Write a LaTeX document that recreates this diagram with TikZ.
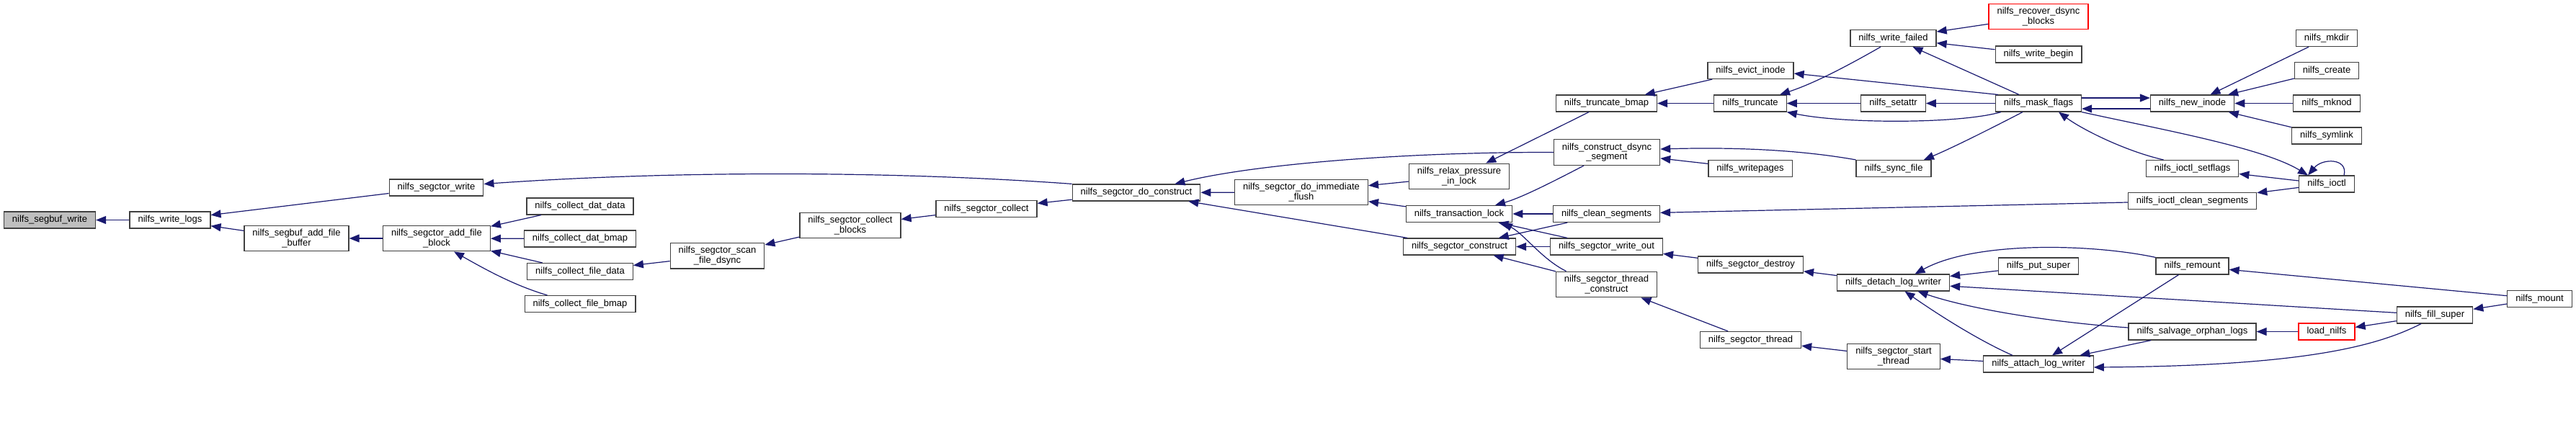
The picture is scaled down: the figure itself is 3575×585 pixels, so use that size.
\documentclass[tikz,border=0pt]{standalone}
\usepackage{fontspec}
\setmainfont{Liberation Sans}
\usetikzlibrary{arrows.meta}
\definecolor{edgeNavy}{RGB}{25,25,112}
\definecolor{frameGray}{RGB}{64,64,64}
\definecolor{rootGray}{RGB}{191,191,191}
\definecolor{missRed}{RGB}{255,0,0}

\begin{document}
\begin{tikzpicture}[
    x=0.5pt, y=-0.5pt,
    box/.style={rectangle, draw=frameGray, fill=white, line width=0.6pt,
      inner xsep=5.75pt, inner ysep=2.5pt, minimum height=11.5pt,
      align=center, font=\fontsize{6.5}{6.85}\selectfont},
    root/.style={box, fill=rootGray},
    miss/.style={box, draw=missRed},
    arr/.style={-{Triangle[length=7pt, width=5.5pt]}, line width=0.6pt, edgeNavy}
  ]
  \useasboundingbox (0,0) rectangle (3575,585);

  % segment buffer side
  \node[root] (root) at (69,305.5) {nilfs\_segbuf\_write};
  \node[box] (wlogs) at (236,305.5) {nilfs\_write\_logs};
  \node[box] (addbuf) at (411.5,331) {nilfs\_segbuf\_add\_file\\\_buffer};
  \node[box] (sctwrite) at (605.5,260.5) {nilfs\_segctor\_write};
  \node[box] (addblk) at (606,331) {nilfs\_segctor\_add\_file\\\_block};
  \node[box] (datdata) at (805,286.5) {nilfs\_collect\_dat\_data};
  \node[box] (datbmap) at (805,331.5) {nilfs\_collect\_dat\_bmap};
  \node[box] (filedata) at (805,377) {nilfs\_collect\_file\_data};
  \node[box] (filebmap) at (805,422) {nilfs\_collect\_file\_bmap};
  \node[box] (scandsync) at (995.5,355) {nilfs\_segctor\_scan\\\_file\_dsync};
  \node[box] (colblocks) at (1180,313) {nilfs\_segctor\_collect\\\_blocks};
  \node[box] (collect) at (1369,290) {nilfs\_segctor\_collect};
  \node[box] (doconstr) at (1577,267.5) {nilfs\_segctor\_do\_construct};
  \node[box] (flush) at (1806,267) {nilfs\_segctor\_do\_immediate\\\_flush};

  % construction and locking
  \node[box] (relax) at (2025,245) {nilfs\_relax\_pressure\\\_in\_lock};
  \node[box] (tlock) at (2025,297) {nilfs\_transaction\_lock};
  \node[box] (construct) at (2025.5,342.5) {nilfs\_segctor\_construct};
  \node[box] (truncbmap) at (2229.5,143.5) {nilfs\_truncate\_bmap};
  \node[box] (dsyncseg) at (2230,211.5) {nilfs\_construct\_dsync\\\_segment};
  \node[box] (clean) at (2229.5,297) {nilfs\_clean\_segments};
  \node[box] (writeout) at (2229.5,342.5) {nilfs\_segctor\_write\_out};
  \node[box] (thrconstr) at (2229.5,395) {nilfs\_segctor\_thread\\\_construct};
  \node[box] (evict) at (2429.5,98) {nilfs\_evict\_inode};
  \node[box] (truncate) at (2429,143.5) {nilfs\_truncate};
  \node[box] (writepages) at (2429,234) {nilfs\_writepages};
  \node[box] (destroy) at (2429.5,367.5) {nilfs\_segctor\_destroy};
  \node[box] (thread) at (2429.5,472) {nilfs\_segctor\_thread};

  % inode and super block callers
  \node[box] (wfailed) at (2627.5,53) {nilfs\_write\_failed};
  \node[box] (setattr) at (2627.5,143.5) {nilfs\_setattr};
  \node[box] (syncfile) at (2628,234) {nilfs\_sync\_file};
  \node[box] (detach) at (2627.5,392.5) {nilfs\_detach\_log\_writer};
  \node[box] (startthr) at (2628,495) {nilfs\_segctor\_start\\\_thread};
  \node[miss] (recover) at (2829,23) {nilfs\_recover\_dsync\\\_blocks};
  \node[box] (wbegin) at (2829,75.5) {nilfs\_write\_begin};
  \node[box] (mask) at (2829,143.5) {nilfs\_mask\_flags};
  \node[box] (putsuper) at (2829,369.5) {nilfs\_put\_super};
  \node[box] (attach) at (2829,505.5) {nilfs\_attach\_log\_writer};
  \node[box] (newinode) at (3042.5,143.5) {nilfs\_new\_inode};
  \node[box] (setflags) at (3042.5,234) {nilfs\_ioctl\_setflags};
  \node[box] (ioclean) at (3042.5,279) {nilfs\_ioctl\_clean\_segments};
  \node[box] (remount) at (3042.5,369.5) {nilfs\_remount};
  \node[box] (salvage) at (3042.5,460.5) {nilfs\_salvage\_orphan\_logs};
  \node[box] (mkdir) at (3229,53) {nilfs\_mkdir};
  \node[box] (create) at (3229,98) {nilfs\_create};
  \node[box] (mknod) at (3229,143.5) {nilfs\_mknod};
  \node[box] (symlink) at (3229,188.5) {nilfs\_symlink};
  \node[box] (ioctl) at (3229,255.5) {nilfs\_ioctl};
  \node[miss] (loadnilfs) at (3229,460.5) {load\_nilfs};
  \node[box] (fillsuper) at (3379,437.5) {nilfs\_fill\_super};
  \node[box] (mount) at (3524.5,415) {nilfs\_mount};

  % calls, arrow at the callee
  \draw[arr] (wlogs) -- (root);
  \draw[arr] (sctwrite) -- (wlogs);
  \draw[arr] (addbuf) -- (wlogs);
  \draw[arr] (addblk) -- (addbuf);
  \draw[arr] (datdata) -- (addblk);
  \draw[arr] (datbmap) -- (addblk);
  \draw[arr] (filedata) -- (addblk);
  \draw[arr] ([xshift=16pt]filebmap.north west) .. controls (712,396) and (670,372) .. ([xshift=12pt]addblk.south);
  \draw[arr] (scandsync) -- (filedata);
  \draw[arr] (colblocks) -- (scandsync);
  \draw[arr] (collect) -- (colblocks);
  \draw[arr] (doconstr) -- (collect);
  \draw[arr] (doconstr.north west) .. controls (1250,238) and (950,236) .. ([yshift=2.5pt]sctwrite.east);
  \draw[arr] (flush) -- (doconstr);
  \draw[arr] (dsyncseg.west) .. controls (1950,211) and (1740,228) .. ([xshift=-18pt]doconstr.north east);
  \draw[arr] (construct) -- (doconstr);
  \draw[arr] (relax) -- (flush);
  \draw[arr] (tlock) -- (flush);
  \draw[arr] (truncbmap) -- (relax);
  \draw[arr] ([xshift=-16pt]dsyncseg.south) .. controls (2150,255) and (2110,275) .. ([xshift=25pt]tlock.north);
  \draw[arr] (clean) -- (tlock);
  \draw[arr] (writeout) -- (tlock);
  \draw[arr] ([xshift=-28pt]thrconstr.north) .. controls (2140,360) and (2115,325) .. ([xshift=30pt]tlock.south);
  \draw[arr] (clean) -- (construct);
  \draw[arr] (writeout) -- (construct);
  \draw[arr] (thrconstr) -- (construct);
  \draw[arr] (truncate) -- (truncbmap);
  \draw[arr] (evict) -- (truncbmap);
  \draw[arr] ([xshift=-8.75pt]wfailed.south) .. controls (2570,88) and (2520,115) .. ([xshift=20.5pt]truncate.north);
  \draw[arr] (setattr) -- (truncate);
  \draw[arr] ([xshift=4pt]mask.south west) .. controls (2720,172) and (2560,172) .. (truncate.south east);
  \draw[arr] ([xshift=2pt]mask.north west) -- ([yshift=-2pt]evict.east);
  \draw[arr] (syncfile.north west) .. controls (2480,205) and (2380,205) .. ([yshift=2.25pt]dsyncseg.east);
  \draw[arr] (writepages) -- (dsyncseg);
  \draw[arr] (ioclean) -- (clean);
  \draw[arr] (destroy) -- (writeout);
  \draw[arr] (thread) -- (thrconstr);
  \draw[arr] (detach) -- (destroy);
  \draw[arr] (startthr) -- (thread);
  \draw[arr] (recover) -- (wfailed);
  \draw[arr] (wbegin) -- (wfailed);
  \draw[arr] (mask) -- (wfailed);
  \draw[arr] (mask) -- (setattr);
  \draw[arr] ([xshift=-11pt]mask.south) .. controls (2760,180) and (2710,205) .. ([xshift=21pt]syncfile.north);
  \draw[arr] ([yshift=3.75pt]mask.east) -- ([yshift=3.75pt]newinode.west);
  \draw[arr] ([yshift=-3.75pt]newinode.west) -- ([yshift=-3.75pt]mask.east);
  \draw[arr] ([xshift=-20pt]setflags.north) .. controls (2950,210) and (2890,180) .. ([xshift=14pt]mask.south);
  \draw[arr] (mask.south east) .. controls (3000,180) and (3140,205) .. ([xshift=-13pt]ioctl.north);
  \draw[arr] ([xshift=12pt]ioctl.north) .. controls +(3pt,12pt) and +(10pt,12pt) .. ([xshift=-13pt]ioctl.north);
  \draw[arr] (ioctl) -- (setflags);
  \draw[arr] (ioctl) -- (ioclean);
  \draw[arr] (mkdir) -- (newinode);
  \draw[arr] (create) -- (newinode);
  \draw[arr] (mknod) -- (newinode);
  \draw[arr] (symlink) -- (newinode);
  \draw[arr] (remount.north west) .. controls (2900,338) and (2740,335) .. ([xshift=15pt]detach.north);
  \draw[arr] (putsuper) -- (detach);
  \draw[arr] (fillsuper) -- (detach);
  \draw[arr] ([yshift=2.75pt]salvage.west) .. controls (2840,447) and (2730,428) .. ([xshift=17pt]detach.south);
  \draw[arr] ([xshift=-18pt]attach.north) .. controls (2740,470) and (2680,430) .. ([xshift=8pt]detach.south);
  \draw[arr] (attach) -- (startthr);
  \draw[arr] (remount) -- (attach);
  \draw[arr] (salvage) -- (attach);
  \draw[arr] ([xshift=-9.5pt]fillsuper.south) .. controls (3300,480) and (3200,508) .. ([yshift=-2.25pt]attach.east);
  \draw[arr] (mount) -- (remount);
  \draw[arr] (loadnilfs) -- (salvage);
  \draw[arr] (fillsuper) -- (loadnilfs);
  \draw[arr] (mount) -- (fillsuper);
\end{tikzpicture}
\end{document}
